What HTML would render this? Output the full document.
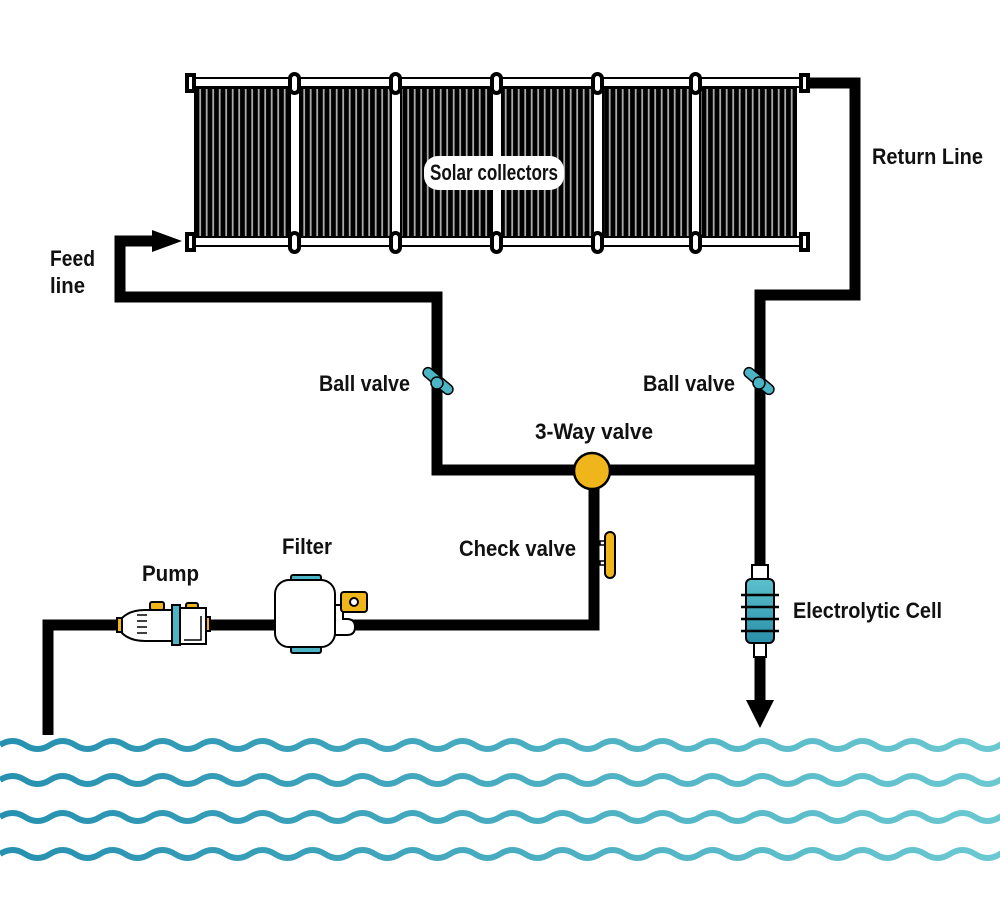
<!DOCTYPE html>
<html><head><meta charset="utf-8"><style>
html,body{margin:0;padding:0;background:#fff;width:1000px;height:900px;overflow:hidden}
text{font-family:"Liberation Sans",sans-serif;font-weight:bold;fill:#111;font-size:22px}
</style></head><body>
<svg width="1000" height="900" viewBox="0 0 1000 900" xmlns="http://www.w3.org/2000/svg">
<defs>
<pattern id="st" x="0" y="0" width="6.5" height="10" patternUnits="userSpaceOnUse">
<rect width="6.5" height="10" fill="#000"/><rect x="4.3" width="1.8" height="10" fill="#aaa"/>
</pattern>
<linearGradient id="wg" x1="0" x2="1" y1="0" y2="0"><stop offset="0" stop-color="#2690b0"/><stop offset="1" stop-color="#6ccad2"/></linearGradient>
<linearGradient id="cg" x1="0" x2="0" y1="0" y2="1"><stop offset="0" stop-color="#5cc0cc"/><stop offset="1" stop-color="#2a8fa8"/></linearGradient>
</defs>
<g fill="none" stroke="#000" stroke-width="11" stroke-linejoin="miter">
<polyline points="160,241 120,241 120,297 437,297 437,470 760,470"/>
<polyline points="806,83 855,83 855,295 760,295 760,705"/>
<polyline points="594,470 594,625 48,625 48,735"/>
</g>
<polygon points="152,230 182,241 152,252" fill="#000"/>
<polygon points="746,700 774,700 760,728" fill="#000"/>
<g stroke="#000" stroke-width="2">
<rect x="195" y="88" width="96" height="150" fill="url(#st)"/>
<rect x="300" y="88" width="92" height="150" fill="url(#st)"/>
<rect x="401" y="88" width="92" height="150" fill="url(#st)"/>
<rect x="501" y="88" width="92" height="150" fill="url(#st)"/>
<rect x="602" y="88" width="89" height="150" fill="url(#st)"/>
<rect x="700" y="88" width="96" height="150" fill="url(#st)"/>
<rect x="290" y="88" width="10" height="150" fill="#fff"/>
<rect x="391" y="88" width="10" height="150" fill="#fff"/>
<rect x="492" y="88" width="10" height="150" fill="#fff"/>
<rect x="593" y="88" width="10" height="150" fill="#fff"/>
<rect x="691" y="88" width="9" height="150" fill="#fff"/>
<rect x="190" y="78" width="615" height="9" fill="#fff"/>
<rect x="190" y="237" width="615" height="9" fill="#fff"/>
</g>
<g fill="#fff" stroke="#000" stroke-width="4">
<rect x="187" y="75" width="7" height="16"/><rect x="801" y="75" width="7" height="16"/>
<rect x="187" y="234" width="7" height="16"/><rect x="801" y="234" width="7" height="16"/>
<rect x="290" y="74" width="9" height="19" rx="4.5"/><rect x="391" y="74" width="9" height="19" rx="4.5"/><rect x="492" y="74" width="9" height="19" rx="4.5"/><rect x="593" y="74" width="9" height="19" rx="4.5"/><rect x="691" y="74" width="9" height="19" rx="4.5"/>
<rect x="290" y="233" width="9" height="19" rx="4.5"/><rect x="391" y="233" width="9" height="19" rx="4.5"/><rect x="492" y="233" width="9" height="19" rx="4.5"/><rect x="593" y="233" width="9" height="19" rx="4.5"/><rect x="691" y="233" width="9" height="19" rx="4.5"/>
</g>
<rect x="424" y="156" width="140" height="34" rx="14" fill="#fff"/>
<text x="430" y="180" font-size="20" textLength="128" lengthAdjust="spacingAndGlyphs">Solar collectors</text>
<g stroke="#000" stroke-width="1.5">
<rect x="420" y="376" width="36" height="10" rx="5" fill="#4bb5c5" transform="rotate(40 438 381)"/>
<circle cx="437" cy="383" r="6" fill="#4bb5c5"/>
<rect x="741" y="376" width="36" height="10" rx="5" fill="#4bb5c5" transform="rotate(40 759 381)"/>
<circle cx="759" cy="383" r="6" fill="#4bb5c5"/>
<circle cx="592" cy="471" r="18" fill="#f1b51c" stroke-width="2.5"/>
<rect x="600" y="541" width="7" height="4" fill="#fff"/><rect x="600" y="561" width="7" height="4" fill="#fff"/>
<rect x="605" y="532" width="10" height="46" rx="5" fill="#f1b51c" stroke-width="2"/>
</g>
<g stroke="#000" stroke-width="2">
<rect x="117" y="618" width="6" height="14" fill="#f1b51c"/>
<rect x="150" y="602" width="14" height="8" rx="2" fill="#f1b51c"/>
<rect x="186" y="603" width="12" height="7" rx="2" fill="#f1b51c"/>
<rect x="205" y="617" width="5" height="14" fill="#f1b51c"/>
<path d="M122,618 Q130,610 145,610 L172,610 L172,641 L145,641 Q130,641 122,633 Z" fill="#fff"/>
<rect x="172" y="605" width="8" height="40" fill="#4bb5c5"/>
<rect x="180" y="608" width="26" height="36" fill="#fff"/>
<path d="M184,640 L201,640 L201,616" fill="none" stroke-width="1.5"/>
<path d="M137,615h10M137,621h10M137,627h10M137,633h10" stroke-width="1.5"/>
<rect x="291" y="575" width="30" height="8" rx="2" fill="#4bb5c5"/>
<rect x="291" y="645" width="30" height="8" rx="2" fill="#4bb5c5"/>
<path d="M333,605 h10 v14 h4 q8,0 8,8 q0,8 -8,8 h-14" fill="#fff"/>
<rect x="275" y="580" width="60" height="67" rx="14" fill="#fff"/>
<rect x="341" y="592" width="26" height="20" rx="3" fill="#f1b51c"/>
<circle cx="354" cy="602" r="4" fill="#fff"/>
<rect x="752" y="565" width="16" height="15" fill="#fff"/>
<rect x="754" y="641" width="12" height="16" fill="#fff"/>
<rect x="746" y="579" width="28" height="64" rx="5" fill="url(#cg)"/>
<path d="M741,595h38M741,607h38M741,619h38M741,631h38" stroke-width="2.5"/>
</g>
<g fill="none" stroke="url(#wg)" stroke-width="6">
<path id="w" d="M0,745 q12.5,-8 25,0 t25,0 t25,0 t25,0 t25,0 t25,0 t25,0 t25,0 t25,0 t25,0 t25,0 t25,0 t25,0 t25,0 t25,0 t25,0 t25,0 t25,0 t25,0 t25,0 t25,0 t25,0 t25,0 t25,0 t25,0 t25,0 t25,0 t25,0 t25,0 t25,0 t25,0 t25,0 t25,0 t25,0 t25,0 t25,0 t25,0 t25,0 t25,0 t25,0 t25,0"/>
<use href="#w" y="35"/><use href="#w" y="72"/><use href="#w" y="109"/>
</g>
<text x="50" y="266" textLength="45" lengthAdjust="spacingAndGlyphs">Feed</text>
<text x="50" y="293" textLength="35" lengthAdjust="spacingAndGlyphs">line</text>
<text x="872" y="164" textLength="111" lengthAdjust="spacingAndGlyphs">Return Line</text>
<text x="319" y="391" textLength="91" lengthAdjust="spacingAndGlyphs">Ball valve</text>
<text x="643" y="391" textLength="92" lengthAdjust="spacingAndGlyphs">Ball valve</text>
<text x="535" y="439" textLength="118" lengthAdjust="spacingAndGlyphs">3-Way valve</text>
<text x="459" y="556" textLength="117" lengthAdjust="spacingAndGlyphs">Check valve</text>
<text x="282" y="554" textLength="50" lengthAdjust="spacingAndGlyphs">Filter</text>
<text x="142" y="581" textLength="57" lengthAdjust="spacingAndGlyphs">Pump</text>
<text x="793" y="618" textLength="149" lengthAdjust="spacingAndGlyphs">Electrolytic Cell</text>
</svg>
</body></html>
